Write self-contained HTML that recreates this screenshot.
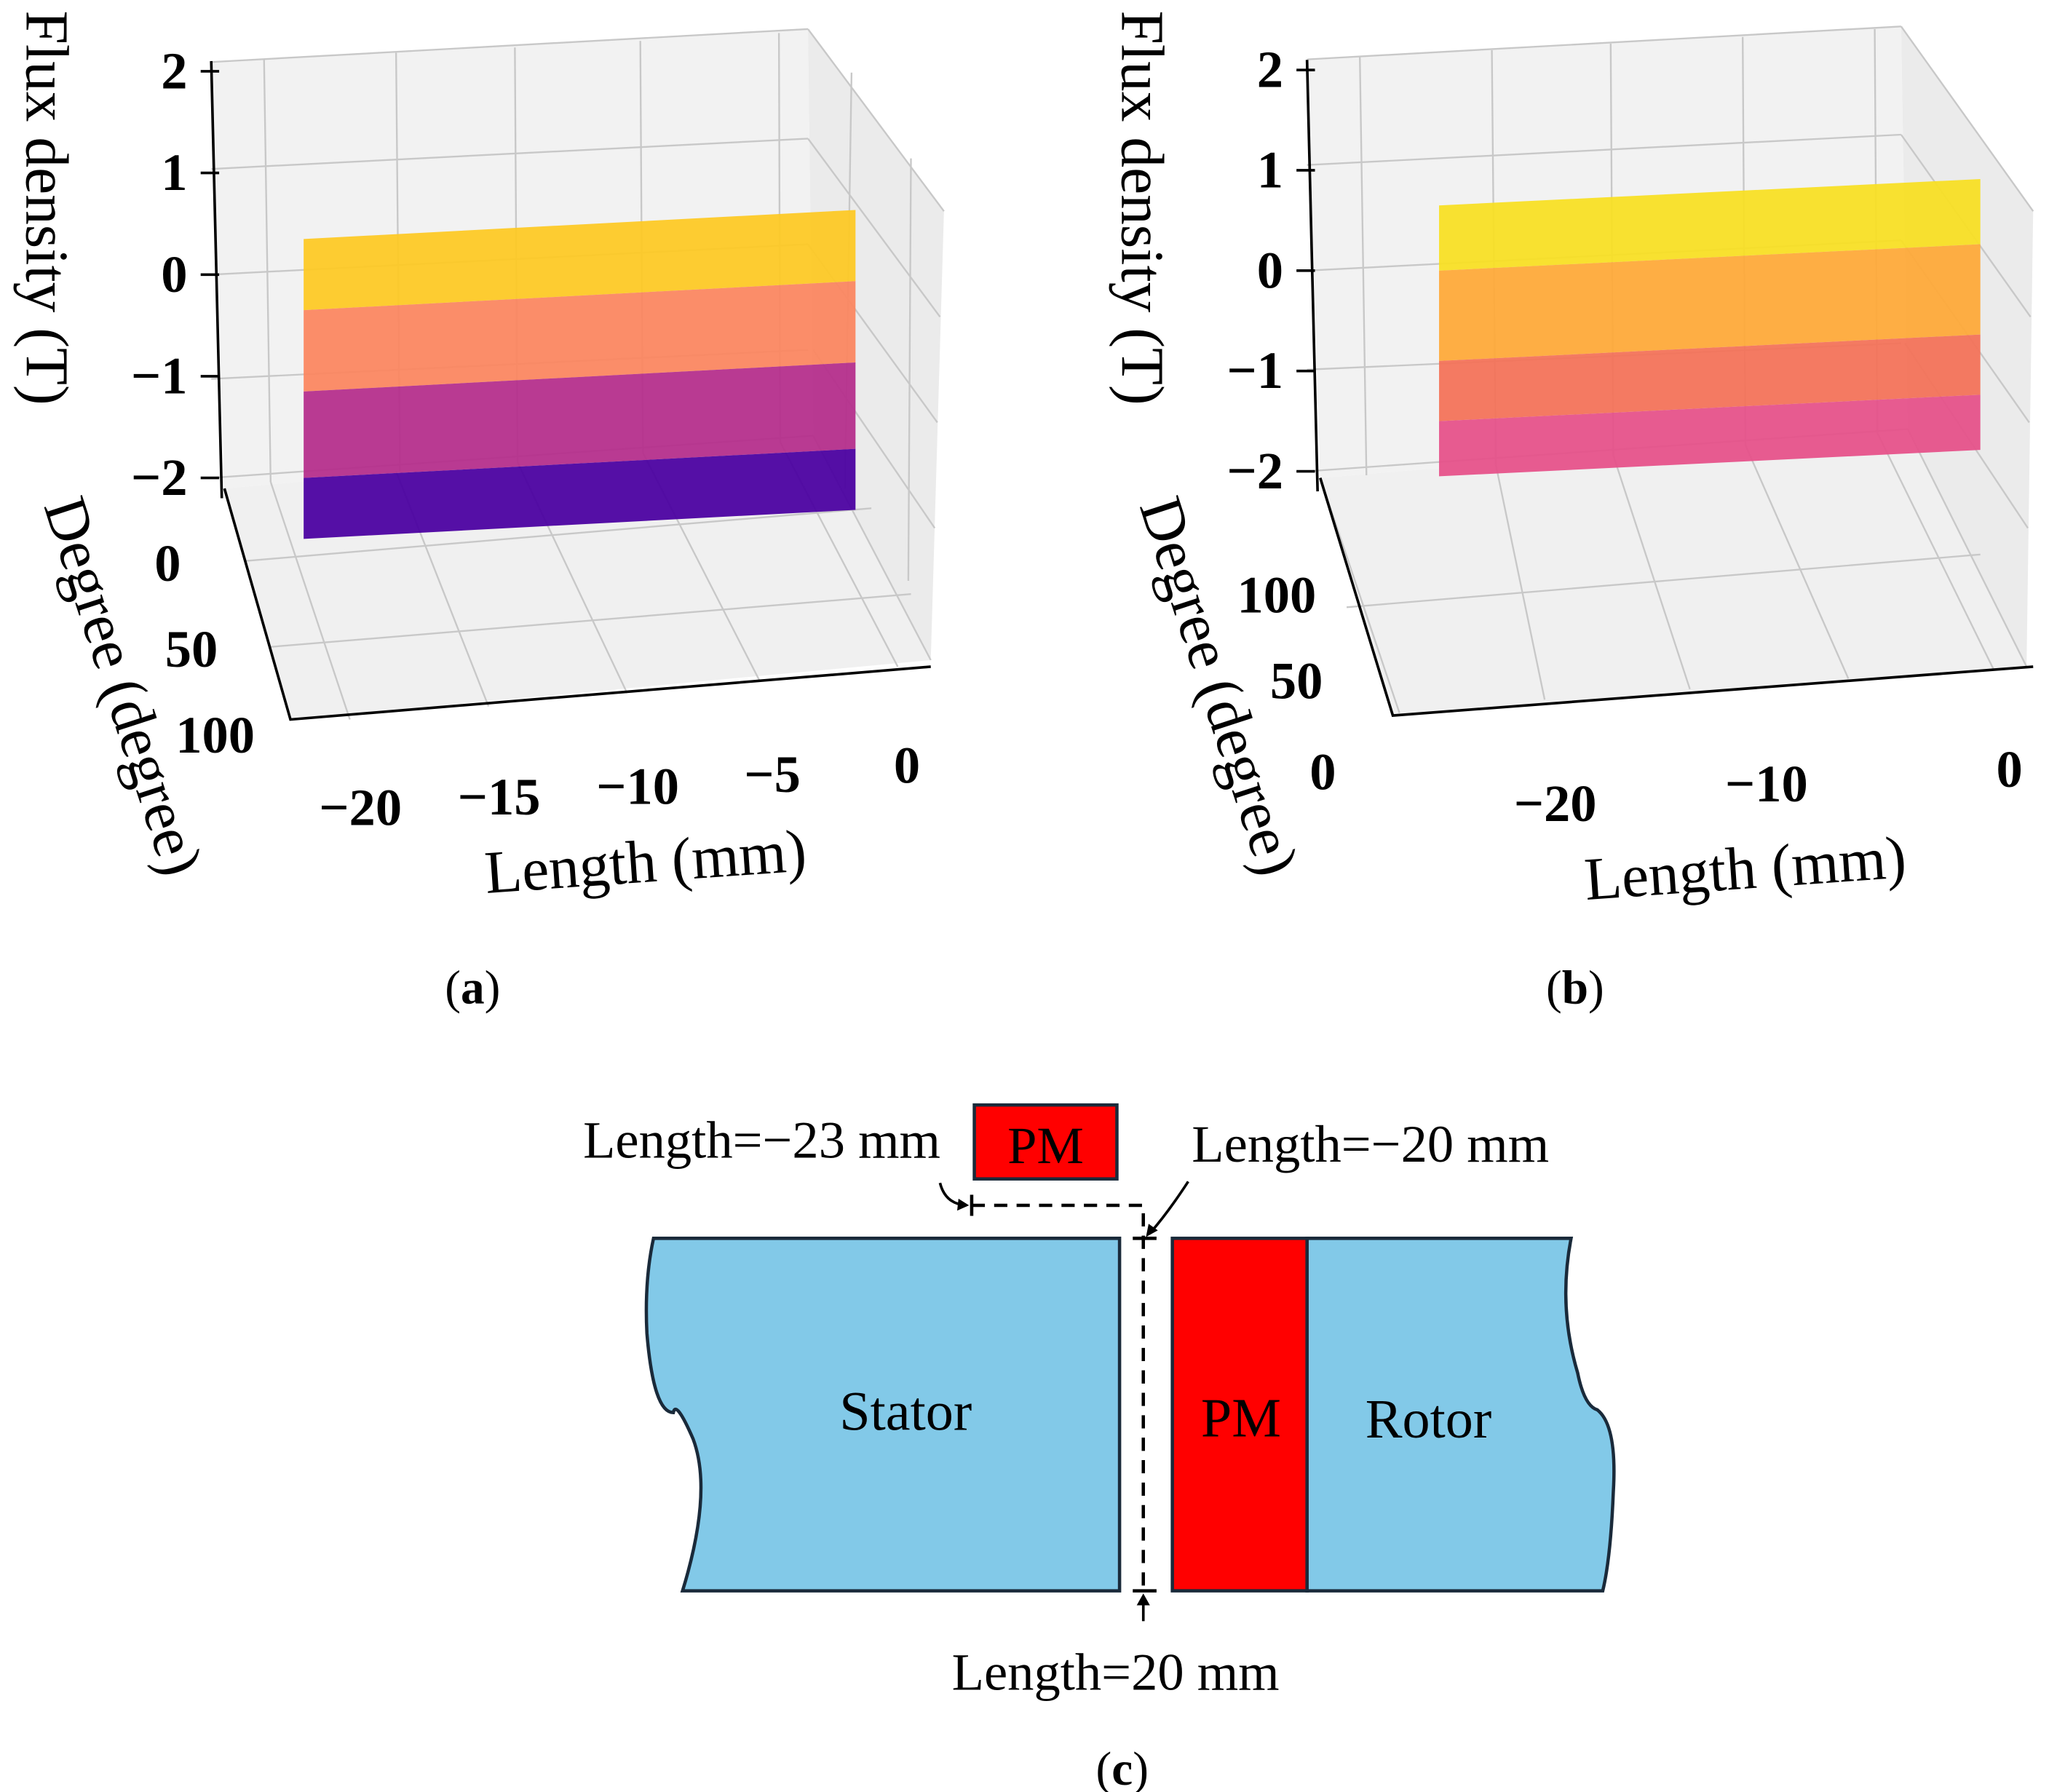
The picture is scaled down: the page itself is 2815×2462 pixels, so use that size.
<!DOCTYPE html>
<html><head><meta charset="utf-8"><style>
html,body{margin:0;padding:0;background:#fff}
svg{display:block}
text{font-family:"Liberation Serif",serif;fill:#000}
</style></head><body>
<svg id="fig" width="2815" height="2462" viewBox="0 0 1552 1357.4" preserveAspectRatio="none" xmlns="http://www.w3.org/2000/svg">
<g id="pa"></g>
<g id="pb"></g>
<text x="358" y="760" font-size="36" text-anchor="middle">(<tspan font-weight="bold">a</tspan>)</text>
<text x="1193" y="760" font-size="36" text-anchor="middle">(<tspan font-weight="bold">b</tspan>)</text>
<g>
  <path d="M495,938 L848,938 L848,1205 L517,1205 Q540,1130 525,1090 Q512,1060 510,1070 Q495,1070 490,1010 Q488,970 495,938 Z" fill="#82c9e8" stroke="#1a2a3a" stroke-width="2.5"/>
  <path d="M990,938 L1190,938 Q1180,990 1195,1040 Q1200,1065 1210,1068 Q1225,1080 1222,1130 Q1220,1180 1214,1205 L990,1205 Z" fill="#82c9e8" stroke="#1a2a3a" stroke-width="2.5"/>
  <rect x="888" y="938" width="102" height="267" fill="#ff0000" stroke="#1a2a3a" stroke-width="2.5"/>
  <rect x="738" y="837" width="108" height="56" fill="#ff0000" stroke="#1a2a3a" stroke-width="2.5"/>
  <text x="792" y="881" font-size="40" text-anchor="middle">PM</text>
  <text x="686" y="1083" font-size="42" text-anchor="middle">Stator</text>
  <text x="940" y="1088" font-size="42" text-anchor="middle">PM</text>
  <text x="1082" y="1089" font-size="42" text-anchor="middle">Rotor</text>
  <path d="M736,913 L866,913 L866,1205" fill="none" stroke="#000" stroke-width="2.5" stroke-dasharray="10,7"/>
  <line x1="736" y1="905" x2="736" y2="921" stroke="#000" stroke-width="2.5"/>
  <line x1="858" y1="1205" x2="876" y2="1205" stroke="#000" stroke-width="2.5"/>
  <line x1="858" y1="938" x2="876" y2="938" stroke="#000" stroke-width="2.5"/>
  <path d="M712,896 Q716,912 732,913" fill="none" stroke="#000" stroke-width="2"/>
  <path d="M726,908 L734,913 L725,917 Z" fill="#000"/>
  <path d="M900,895 Q885,918 872,933" fill="none" stroke="#000" stroke-width="2"/>
  <path d="M868,937 L870,927 L877,932 Z" fill="#000"/>
  <line x1="866" y1="1212" x2="866" y2="1228" stroke="#000" stroke-width="2"/>
  <path d="M861,1216 L866,1207 L871,1216 Z" fill="#000"/>
  <text x="577" y="877" font-size="40" text-anchor="middle">Length=−23 mm</text>
  <text x="1038" y="880" font-size="40" text-anchor="middle">Length=−20 mm</text>
  <text x="845" y="1280" font-size="40" text-anchor="middle">Length=20 mm</text>
  <text x="850" y="1352" font-size="36" text-anchor="middle">(<tspan font-weight="bold">c</tspan>)</text>
</g>
</svg>
<script>
var NS="http://www.w3.org/2000/svg";
// ---- data ----
var zTicks=[2,1,0,-1,-2];
var aLenTicks=["−20","−15","−10","−5","0"];
var aDegTicks=["0","50","100"];
var bLenTicks=["−20","−10","0"];
var bDegTicks=["100","50","0"];
// panel a bands (flux density top, bottom)
var aBandTop=[0.35,-0.35,-1.15,-2.0];
var aBandBot=[-0.35,-1.15,-2.0,-2.6];
var aBandColor=["#fdc926","#fb8761","#b52f8c","#4c02a1"];
// panel b bands
var bBandTop=[0.65,0.0,-0.9,-1.5];
var bBandBot=[0.0,-0.9,-1.5,-2.05];
var bBandColor=["#f8df25","#feaa3a","#f3735a","#e6528a"];

function el(p,tag,attrs){var e=document.createElementNS(NS,tag);for(var k in attrs)e.setAttribute(k,attrs[k]);p.appendChild(e);return e;}
function txt(p,x,y,s,size,extra){var t=el(p,"text",{x:x,y:y,"font-size":size});for(var k in extra)t.setAttribute(k,extra[k]);t.textContent=s;return t;}

function drawPanel(g,cfg){
  el(g,"polygon",{points:cfg.back,fill:"#f2f2f2"});
  el(g,"polygon",{points:cfg.side,fill:"#ebebeb"});
  el(g,"polygon",{points:cfg.floor,fill:"#f0f0f0"});
  cfg.grid.forEach(function(l){
    var ln=el(g,"line",{x1:l[0],y1:l[1],x2:l[2],y2:l[3],stroke:"#c8c8c8","stroke-width":1.3});
    
    
  });
  el(g,"line",{x1:cfg.zx,y1:cfg.zY(2.1),x2:cfg.zx+8,y2:cfg.zY(-2.2),stroke:"#000","stroke-width":2});
  zTicks.forEach(function(z){
    var y=cfg.zY(z);
    el(g,"line",{x1:cfg.zx-8,y1:y,x2:cfg.zx+6,y2:y,stroke:"#000","stroke-width":2});
    var t=txt(g,cfg.zx-18,y+13,z<0?"−"+(-z):""+z,40,{"font-weight":"bold","text-anchor":"end"});
    
    
  });
  var n=cfg.top.length;
  for(var i=0;i<n;i++){
    var L=cfg.xL,R=cfg.xR,s=cfg.slope;
    var pts=L+","+cfg.zY(cfg.top[i])+" "+R+","+(cfg.zY(cfg.top[i])-s)+" "+R+","+(cfg.zY(cfg.bot[i])-s)+" "+L+","+cfg.zY(cfg.bot[i]);
    var p=el(g,"polygon",{points:pts,fill:cfg.color[i],opacity:0.95});
    
    
  }
  el(g,"polyline",{points:cfg.axisLine,fill:"none",stroke:"#000","stroke-width":2});
  cfg.lenTicks.forEach(function(s,i){
    var t=txt(g,cfg.lenPos[i][0],cfg.lenPos[i][1],s,40,{"font-weight":"bold","text-anchor":"middle"});
    
    
  });
  cfg.degTicks.forEach(function(s,i){
    var t=txt(g,cfg.degPos[i][0],cfg.degPos[i][1],s,40,{"font-weight":"bold","text-anchor":"end"});
    
    
  });
  var a=txt(g,0,0,"Flux density (T)",46,{transform:"translate("+cfg.fluxT[0]+","+cfg.fluxT[1]+") rotate(90)"});
  
  var b=txt(g,0,0,"Degree (degree)",46,{transform:"translate("+cfg.degT[0]+","+cfg.degT[1]+") rotate(72)"});
  
  var c=txt(g,cfg.lenT[0],cfg.lenT[1],"Length (mm)",46,{"text-anchor":"middle",transform:"rotate(-4 "+cfg.lenT[0]+" "+cfg.lenT[1]+")"});
  
}
function zYa(z){return 208-z*77;}
function zYb(z){return 205-z*76;}
drawPanel(document.getElementById("pa"),{
  zY:zYa,zx:160,xL:230,xR:648,slope:22,top:aBandTop,bot:aBandBot,color:aBandColor,
  back:"160,47 612,22 616,330 170,370",side:"612,22 715,160 705,500 616,330",floor:"170,370 616,330 705,500 220,545",
  grid:[[200,45,205,365],[300,40,303,357],[390,36,392,350],[485,31,487,343],[590,25,591,335],
        [160,47,612,22],[160,128,612,105],[160,208,612,185],[160,287,612,265],[160,362,616,330],
        [612,22,715,160],[612,105,712,240],[612,185,710,320],[616,265,708,400],[616,330,705,500],
        [645,55,640,370],[690,120,688,440],
        [185,425,660,385],[205,490,690,450],
        [265,545,205,365],[370,535,300,357],[475,525,392,350],[575,515,487,343],[680,505,591,335]],
  axisLine:"170,370 220,545 705,505",
  lenTicks:aLenTicks,lenPos:[[273,625],[378,617],[483,609],[585,600],[687,593]],
  degTicks:aDegTicks,degPos:[[137,440],[165,505],[193,570]],
  fluxT:[20,8],degT:[33,383],lenT:[490,668]
});
drawPanel(document.getElementById("pb"),{
  zY:zYb,zx:990,xL:1090,xR:1500,slope:20,top:bBandTop,bot:bBandBot,color:bBandColor,
  back:"990,45 1440,20 1445,325 1000,362",side:"1440,20 1540,160 1535,505 1445,325",floor:"1000,362 1445,325 1535,505 1055,542",
  grid:[[1030,43,1035,360],[1130,38,1133,352],[1220,33,1222,345],[1320,28,1322,337],[1420,22,1422,328],
        [990,45,1440,20],[990,125,1440,102],[990,205,1440,182],[990,280,1440,260],[990,357,1445,325],
        [1440,20,1540,160],[1440,102,1538,240],[1440,182,1537,320],[1443,260,1536,400],[1445,325,1535,505],
        [1020,460,1500,420],
        [1060,540,1000,362],[1170,530,1133,352],[1280,522,1222,345],[1400,514,1322,337],[1510,507,1422,328]],
  axisLine:"1000,362 1055,542 1540,505",
  lenTicks:bLenTicks,lenPos:[[1178,622],[1338,607],[1522,596]],
  degTicks:bDegTicks,degPos:[[997,464],[1002,529],[1012,598]],
  fluxT:[850,8],degT:[863,383],lenT:[1323,673]
});
</script>
</body></html>
